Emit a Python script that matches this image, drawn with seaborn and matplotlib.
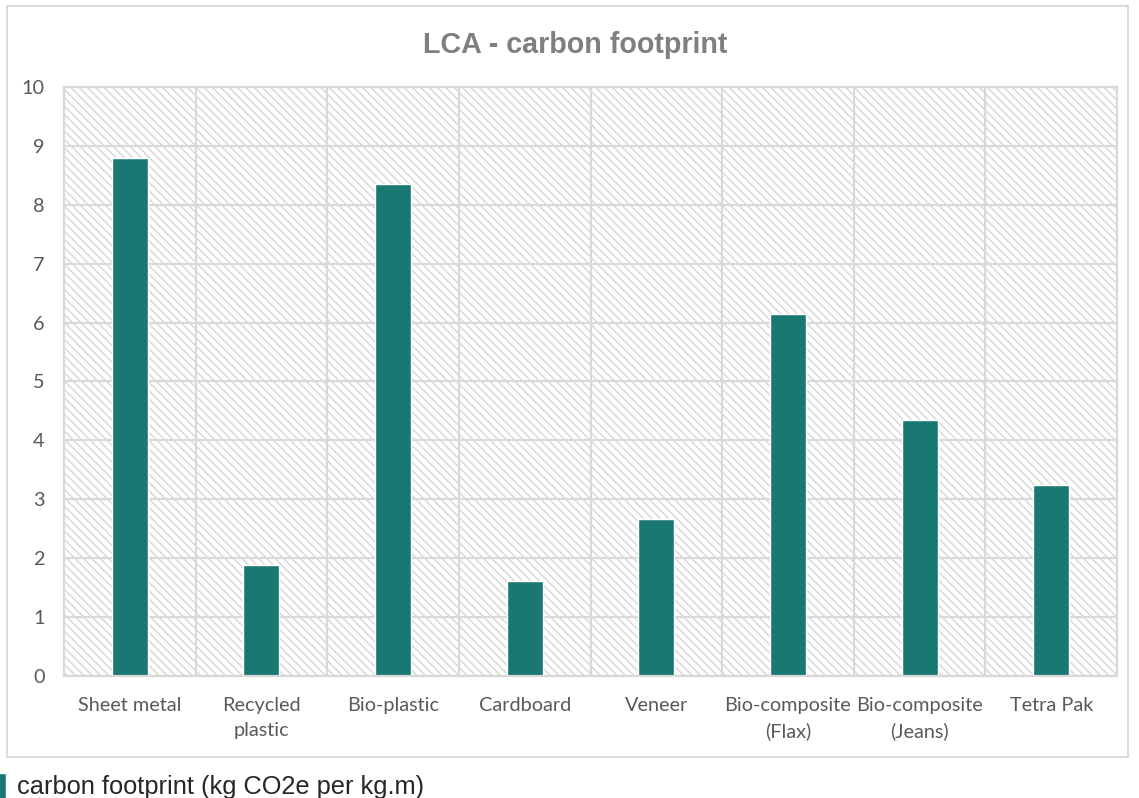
import matplotlib
matplotlib.use("Agg")
import matplotlib.pyplot as plt
from matplotlib.patches import Rectangle
from matplotlib.ticker import FixedLocator
import seaborn as sns

categories = ["Sheet metal", "Recycled\nplastic", "Bio-plastic", "Cardboard", "Veneer",
              "Bio-composite\n(Flax)", "Bio-composite\n(Jeans)", "Tetra Pak"]
footprint = [8.80, 1.88, 8.36, 1.61, 2.66, 6.15, 4.34, 3.24]
series_name = "carbon footprint (kg CO2e per kg.m)"
y_ticks = list(range(0, 11))

BAR = "#1a7873"
GRID = "#d9d9d9"
TICK_TXT = "#595959"

sns.set_theme(style="white")
plt.rcParams["font.family"] = ["Lato", "DejaVu Sans"]
plt.rcParams["hatch.linewidth"] = 1.0

fig = plt.figure(figsize=(11.39, 7.98), dpi=100)
ax = fig.add_axes([0.0562, 0.1529, 0.9245, 0.7381])

sns.barplot(x=categories, y=footprint, color=BAR, saturation=1, width=0.273,
            ax=ax, label=series_name, legend=False, zorder=2)

ax.set_xlim(-0.5, len(categories) - 0.5)
ax.set_ylim(0, 10)
ax.set_yticks(y_ticks)
ax.set_yticklabels([str(t) for t in y_ticks])
ax.set_xlabel("")
ax.set_ylabel("")

# diagonal hatched backdrop of the plot area
ax.set_facecolor("white")
ax.add_patch(Rectangle((0, 0), 1, 1, transform=ax.transAxes, facecolor="white",
                       edgecolor="#d6d6d6", hatch="\\\\\\\\", linewidth=0, zorder=0.1))

# horizontal grid at every unit, vertical grid between categories
ax.set_axisbelow(True)
ax.xaxis.set_minor_locator(FixedLocator([i + 0.5 for i in range(len(categories) - 1)]))
ax.grid(axis="y", which="major", color=GRID, linewidth=1.6)
ax.grid(axis="x", which="minor", color=GRID, linewidth=1.6)
ax.grid(axis="x", which="major", visible=False)
for s in ax.spines.values():
    s.set_color(GRID)
    s.set_linewidth(1.6)

ax.tick_params(axis="both", which="both", length=0)
ax.tick_params(axis="y", pad=14, labelsize=14.3, labelcolor=TICK_TXT)
ax.tick_params(axis="x", pad=15, labelsize=14.3, labelcolor=TICK_TXT)
for lbl in ax.get_xticklabels():
    lbl.set_linespacing(1.55)

# chart title
fig.text(0.505, 0.944, "LCA - carbon footprint", ha="center", va="center",
         fontsize=20.6, fontweight="bold", color="#7f7f7f", family="Liberation Sans")

# outer chart frame
fig.patches.append(Rectangle((7 / 1139, 1 - 757 / 798), (1128 - 7) / 1139, (757 - 6) / 798,
                             transform=fig.transFigure, fill=False,
                             edgecolor=GRID, linewidth=1.4))

# series legend below the frame
handles, labels = ax.get_legend_handles_labels()
fig.legend(handles[:1], labels[:1], loc="lower left", bbox_to_anchor=(-0.006, -0.008),
           frameon=False, handlelength=0.3, handleheight=1.2, handletextpad=0.45,
           borderpad=0.2, borderaxespad=0,
           prop={"family": "Liberation Sans", "size": 18.3}, labelcolor="#262626")

fig.savefig("out.png", dpi=100)
